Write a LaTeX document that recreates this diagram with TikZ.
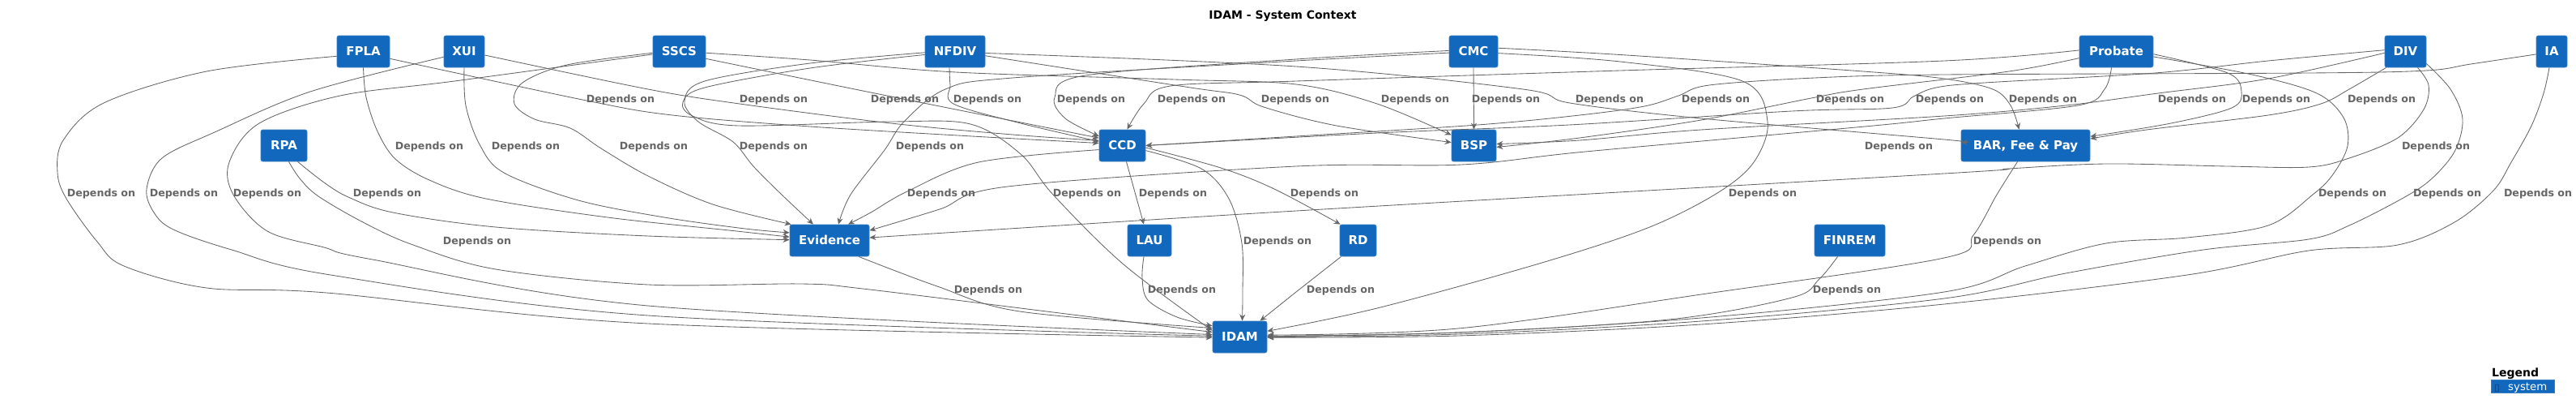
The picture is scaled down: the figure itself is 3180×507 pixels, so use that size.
\documentclass[tikz,border=0pt]{standalone}
\usepackage{fontspec}
\setmainfont{DejaVu Sans}
\usetikzlibrary{arrows.meta}
\definecolor{sysfill}{HTML}{1168BD}
\definecolor{sysdraw}{HTML}{3C7FC0}
\definecolor{edgec}{HTML}{666666}
\definecolor{labc}{HTML}{666666}
\definecolor{tofuc}{HTML}{0B4C92}
\begin{document}
\begin{tikzpicture}[x=1pt,y=-1pt,
  sys/.style={draw=sysdraw, fill=sysfill, rounded corners=2.5pt, text=white,
    font=\bfseries\fontsize{15}{18}\selectfont, minimum height=39pt, inner sep=0pt,
    text height=10.9pt, text depth=0pt, line width=0.8pt},
  dep/.style={draw=edgec, line width=0.85pt, -{Stealth[length=8pt,width=7pt]}},
  lbl/.style={font=\bfseries\fontsize{12.6}{14}\selectfont, text=labc, inner sep=0pt, anchor=base},
  sm/.style={smooth, tension=0.55}
]
\useasboundingbox (0,0) rectangle (3180,507);
% title
\node[anchor=base, font=\bfseries\fontsize{14}{16}\selectfont, inner sep=0pt] (title) at (1583.5,23) {IDAM - System Context};
% nodes
\node[sys, minimum width=65pt] (FPLA) at (448.5,63.5) {FPLA};
\node[sys, minimum width=50pt] (XUI) at (573,63.5) {XUI};
\node[sys, minimum width=65pt] (SSCS) at (838.5,63.5) {SSCS};
\node[sys, minimum width=74pt] (NFDIV) at (1179,63.5) {NFDIV};
\node[sys, minimum width=60pt] (CMC) at (1819,63.5) {CMC};
\node[sys, minimum width=91pt] (Probate) at (2612.5,63.5) {Probate};
\node[sys, minimum width=51pt] (DIV) at (2969.5,63.5) {DIV};
\node[sys, minimum width=38pt] (IA) at (3150,63.5) {IA};
\node[sys, minimum width=57pt] (RPA) at (350.5,179.5) {RPA};
\node[sys, minimum width=57pt] (CCD) at (1385.5,179.5) {CCD};
\node[sys, minimum width=55pt] (BSP) at (1819.5,179.5) {BSP};
\node[sys, minimum width=159pt] (BAR) at (2500.5,179.5) {BAR, Fee \& Pay};
\node[sys, minimum width=98pt] (Evidence) at (1024,296.5) {Evidence};
\node[sys, minimum width=54pt] (LAU) at (1419,296.5) {LAU};
\node[sys, minimum width=45pt] (RD) at (1676.5,296.5) {RD};
\node[sys, minimum width=87pt] (FINREM) at (2283.5,296.5) {FINREM};
\node[sys, minimum width=67pt] (IDAM) at (1530.5,415.5) {IDAM};
% edges to CCD
\draw[dep] plot[sm] coordinates {(FPLA.-15) (724,124) (830,142) (1000,156) (1200,168) (CCD.174)};
\draw[dep] plot[sm] coordinates {(XUI.-10) (800,110) (913,128) (1100,152) (1250,166) (CCD.168)};
\draw[dep] plot[sm] coordinates {(SSCS.-15) (1075,114) (CCD.162)};
\draw[dep] plot[sm] coordinates {([xshift=-7pt]NFDIV.south) (1173,105) (1177,128) (1260,152) (CCD.170)};
\draw[dep] plot[sm] coordinates {(CMC.178) (1600,73) (1340,93) (1302,120) (1315,146) (CCD.158)};
\draw[dep] plot[sm] coordinates {(Probate.178) (2400,75) (2000,87) (1600,100) (1445,106) (1412,128) ([xshift=6pt]CCD.north)};
\draw[dep] plot[sm] coordinates {(IA.190) (3050,79) (2995,87) (2850,90) (2400,92) (2240,96) (2110,105) (2072,118) (2030,131) (1950,142) (1824,154) (1600,168) (CCD.east)};
\draw[dep] plot[sm] coordinates {(DIV.176) (2800,75) (2660,90) (2450,102) (2390,108) (2362,119) (2336,133) (2212,137) (1937,154) (1700,164) (CCD.east)};
% edges to BSP
\draw[dep] plot[sm] coordinates {(NFDIV.-8) (1463,107) (1530,117) (1560,132) (1650,155) (BSP.172)};
\draw[dep] plot[sm] coordinates {(SSCS.-3) (1000,74) (1180,89) (1450,98) (1600,104) (1700,128) (BSP.155)};
\draw[dep] (CMC.south) -- (BSP.north);
\draw[dep] plot[sm] coordinates {(Probate.190) (2480,88) (2300,110) (2236,121) (2100,148) (1950,170) (BSP.-4)};
\draw[dep] plot[sm] coordinates {(DIV.184) (2800,97) (2664,115) (2550,130) (2400,143) (2100,160) (1950,173) (BSP.4)};
% edges to BAR
\draw[dep] plot[sm] coordinates {(NFDIV.-3) (1600,82) (1880,110) (1938,127) (2100,146) (2400,172) (BAR.177)};
\draw[dep] plot[sm] coordinates {(CMC.8) (2008,68) (2300,88) (2400,97) (2460,110) (2482,130) ([xshift=-8pt]BAR.north)};
\draw[dep] plot[sm] coordinates {(Probate.-4) (2750,90) (2767,113) (2755,133) (2680,152) (BAR.8)};
\draw[dep] plot[sm] coordinates {([xshift=2pt]DIV.south west) (2900,110) (2865,128) (2800,142) (2650,160) (BAR.6)};
% edges to Evidence
\draw[dep] plot[sm] coordinates {(FPLA.south) (452,120) (466,162) (488,196) (530,222) (600,245) (750,268) (900,284) (Evidence.175)};
\draw[dep] plot[sm] coordinates {(XUI.south) (575,130) (592,178) (622,213) (714,247) (820,268) (920,282) (Evidence.169)};
\draw[dep] plot[sm] coordinates {(SSCS.183) (700,80) (645,102) (635,128) (660,147) (704,158) (742,183) (800,217) (880,252) ([xshift=2pt]Evidence.north west)};
\draw[dep] plot[sm] coordinates {(NFDIV.182) (1000,78) (870,100) (845,125) (862,150) (905,175) (930,205) (965,240) ([xshift=-20pt]Evidence.north)};
\draw[dep] plot[sm] coordinates {(CMC.183) (1600,75) (1250,96) (1167,110) (1116,150) (1092,185) (1050,240) ([xshift=11pt]Evidence.north)};
\draw[dep] plot[sm] coordinates {([xshift=-6pt]Probate.south) (2598,110) (2565,130) (2400,146) (2302,156) (1957,187) (1804,203) (1600,205) (1244,230) (1160,258) (Evidence.14)};
\draw[dep] plot[sm] coordinates {([xshift=15pt]DIV.south) (2998,105) (2992,135) (2960,170) (2900,195) (2850,206) (2750,205) (2600,202) (2480,208) (2400,214) (1600,260) (Evidence.4)};
\draw[dep] plot[sm] coordinates {([xshift=17pt]RPA.south) (400,225) (430,243) (485,262) (612,280) (800,291) (Evidence.179)};
\draw[dep] plot[sm] coordinates {(CCD.190) (1208,200) (1120,236) (1075,262) ([xshift=23pt]Evidence.north)};
% edges from CCD
\draw[dep] ([xshift=5pt]CCD.south) -- ([xshift=-7pt]LAU.north);
\draw[dep] plot[sm] coordinates {(CCD.-5) (1507,207) (1573,233) ([xshift=1pt]RD.north west)};
\draw[dep] plot[sm] coordinates {(CCD.-12) (1483,208) (1517,245) (1533,300) (1534,360) ([xshift=3pt]IDAM.north)};
% edges to IDAM
\draw[dep] plot[sm] coordinates {(FPLA.190) (255,88) (128,127) (78,173) (71,213) (82,245) (120,298) (153,328) (255,355) (403,361) (800,399) (IDAM.181)};
\draw[dep] plot[sm] coordinates {(XUI.195) (383,113) (265,163) (200,195) (181,233) (190,262) (214,283) (286,308) (408,339) (800,389) (IDAM.178)};
\draw[dep] plot[sm] coordinates {(SSCS.186) (561,100) (420,118) (320,152) (283,200) (288,240) (330,285) (400,305) (460,320) (800,377) (IDAM.175)};
\draw[dep] plot[sm] coordinates {([xshift=6pt]RPA.south) (370,220) (393,242) (450,275) (510,302) (612,332) (800,351) (989,350) (1065,356) (1300,385) (IDAM.170)};
\draw[dep] plot[sm] coordinates {(NFDIV.186) (1000,84) (870,108) (843,126) (855,143) (912,155) (1100,150) (1198,153) (1260,190) (1300,240) (1387,326) (IDAM.167)};
\draw[dep] plot[sm] coordinates {([xshift=36pt]Evidence.south) (1157,353) (1259,384) (IDAM.162)};
\draw[dep] plot[sm] coordinates {([xshift=-7pt]LAU.south) (1410,343) (1417,370) (1453,391) (IDAM.158)};
\draw[dep] plot[sm] coordinates {([xshift=2pt]RD.south west) (1600,360) ([xshift=25pt]IDAM.north)};
\draw[dep] plot[sm] coordinates {(CMC.-4) (2000,76) (2151,100) (2182,150) (2165,200) (2120,238) (2034,281) (1900,325) (1700,380) (IDAM.12)};
\draw[dep] plot[sm] coordinates {([xshift=-10pt]BAR.south) (2465,240) (2436,290) (2400,318) (2100,363) (1800,405) (IDAM.4)};
\draw[dep] plot[sm] coordinates {([xshift=-15pt]FINREM.south) (2245,345) (2212,367) (2060,394) (1800,410) (IDAM.1)};
\draw[dep] plot[sm] coordinates {(Probate.-8) (2780,92) (2860,115) (2893,145) (2898,180) (2880,215) (2855,240) (2800,278) (2700,293) (2600,300) (2500,328) (2400,360) (2100,392) (1800,410) (IDAM.2)};
\draw[dep] plot[sm] coordinates {(DIV.-30) (3025,110) (3040,147) (3030,187) (3000,222) (2965,245) (2900,278) (2850,295) (2720,308) (2550,337) (2400,368) (2100,396) (1800,412) (IDAM.0)};
\draw[dep] plot[sm] coordinates {([xshift=-3pt]IA.south) (3140,115) (3125,155) (3100,200) (3078,235) (3030,274) (2960,302) (2850,309) (2700,339) (2400,375) (2100,400) (1800,414) (IDAM.-1)};
% labels
\foreach \lx [count=\i] in {766,955,1117,1219,1347,1471,1599,1747,1859,1987,2118,2284,2407,2522,2706,2810,2940}
  \node[lbl] (la\i) at (\lx,126.6) {Depends on};
\foreach \lx [count=\i] in {530,649,807,955,1148,2344,3007}
  \node[lbl] (lb\i) at (\lx,184.6) {Depends on};
\foreach \lx [count=\i] in {125,227,330,478,1162,1342,1448,1635,2176,2904,3021,3133}
  \node[lbl] (lc\i) at (\lx,242.6) {Depends on};
\foreach \lx [count=\i] in {589,1577,2478}
  \node[lbl] (ld\i) at (\lx,301.6) {Depends on};
\foreach \lx [count=\i] in {1220,1459,1655,2280}
  \node[lbl] (le\i) at (\lx,361.6) {Depends on};
% legend
\node[anchor=base west, font=\bfseries\fontsize{14}{16}\selectfont, inner sep=0pt] (legt) at (3076,464) {Legend};
\node[fill=sysfill, draw=sysdraw, line width=0.6pt, minimum width=78pt, minimum height=16pt, inner sep=0pt, anchor=north west] (legb) at (3075,468) {};
\node[anchor=base west, text=white, font=\fontsize{13.3}{15}\selectfont, inner sep=0pt] (legs) at (3096,481) {system};
\draw[tofuc, line width=0.6pt] (3080.5,474) rectangle (3084.5,482);
\end{tikzpicture}
\end{document}
